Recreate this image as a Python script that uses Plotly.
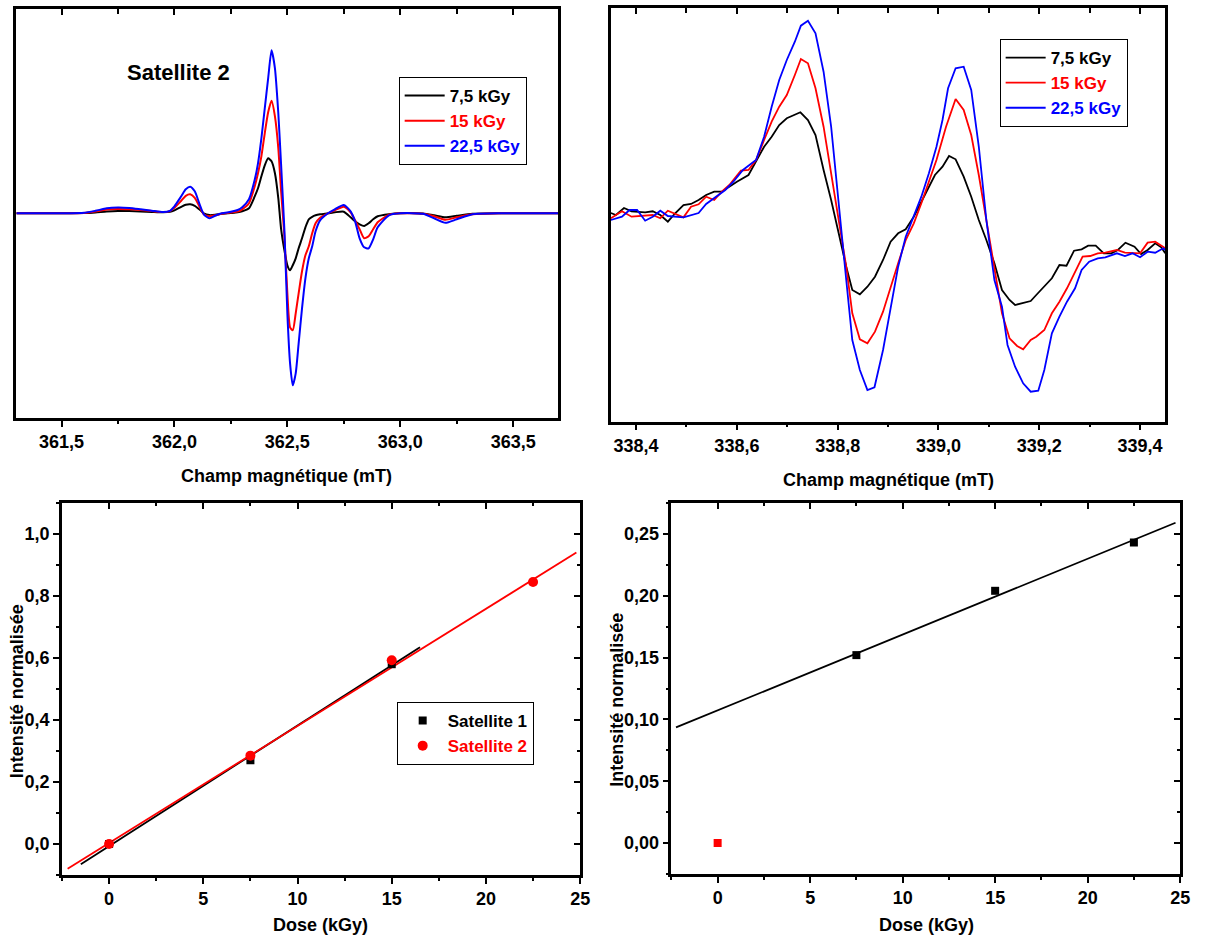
import plotly.graph_objects as go

# ---------------- data ----------------
# Top-left: Satellite 2 spectra (arbitrary units)
tl_field = [361.30, 361.50, 361.60, 361.65, 361.70, 361.75, 361.80, 361.85, 361.90, 361.95,
            361.98, 362.00, 362.03, 362.05, 362.07, 362.09, 362.11, 362.13, 362.155, 362.18,
            362.21, 362.25, 362.28, 362.30, 362.33, 362.355, 362.37, 362.385, 362.40, 362.415,
            362.43, 362.445, 362.46, 362.472, 362.487, 362.50, 362.512, 362.524, 362.537, 362.55,
            362.565, 362.58, 362.595, 362.61, 362.625, 362.645, 362.68, 362.71, 362.75, 362.78,
            362.80, 362.82, 362.84, 362.86, 362.88, 362.90, 362.95, 363.00, 363.10, 363.15,
            363.20, 363.25, 363.32, 363.45, 363.70]
tl_7_5 = [0, 0, 0.2, 0.8, 1.8, 2.3, 2.2, 1.9, 1.4, 1.0,
          1.5, 3, 6.5, 8.5, 9, 7.5, 4, 0, -1.8, -1.5,
          -0.5, 0.3, 1, 2, 5, 16.6, 25, 37, 48, 55,
          52, 40, 15, -15, -37, -52, -57, -52, -45, -35,
          -25, -14, -6, -3.5, -2, -1, 0, 1, 1.6, -4,
          -8, -11, -12.7, -10, -6, -3, -1, 0, -0.3, -2,
          -4, -2.5, -0.5, 0, 0]
tl_15 = [0, 0, 0.4, 1.8, 3.8, 4.4, 4.0, 3.2, 2.2, 1.2,
         2.2, 5.5, 12.5, 17.5, 19, 15.5, 7, -1, -3, -2,
         -0.5, 0.8, 1.7, 4, 10, 26.6, 40, 57, 80, 101,
         112.6, 97, 65, 23, -23, -80, -114, -117, -100, -80,
         -58, -42, -33, -20, -10, -4.5, 0, 3, 6.6, 1,
         -7, -16, -25, -23, -16, -9, -1.5, 0, -0.5, -3,
         -6.5, -4, -1, 0, 0]
tl_22_5 = [0, 0, 0.5, 2.5, 5, 5.8, 5.3, 4.0, 2.6, 1.2,
           2.5, 7, 17, 24, 26.6, 22, 10, -1, -5, -2.5,
           0, 1.5, 3.3, 6, 14, 33, 50, 75, 105, 135,
           163, 145, 100, 50, -17, -100, -150, -172, -160, -130,
           -95, -65, -45, -33, -18, -7, 0, 4, 8.3, 2,
           -8, -25, -34, -35, -26, -14, -2, 0, -0.5, -5,
           -9.5, -6, -1, 0, 0]

# Top-right: spectra (arbitrary units)
tr_field_7_5 = [338.350, 338.360, 338.376, 338.391, 338.418, 338.433, 338.448, 338.463, 338.478, 338.494,
                338.509, 338.524, 338.539, 338.555, 338.570, 338.585, 338.600, 338.623, 338.638, 338.654,
                338.669, 338.684, 338.699, 338.715, 338.726, 338.741, 338.756, 338.772, 338.787, 338.802,
                338.817, 338.829, 338.844, 338.859, 338.874, 338.890, 338.905, 338.920, 338.935, 338.951,
                338.966, 338.981, 338.993, 339.008, 339.021, 339.034, 339.050, 339.065, 339.080, 339.095,
                339.111, 339.126, 339.141, 339.152, 339.168, 339.183, 339.194, 339.210, 339.225, 339.240,
                339.254, 339.269, 339.284, 339.297, 339.312, 339.328, 339.343, 339.356, 339.371, 339.389,
                339.402, 339.415, 339.430, 339.442, 339.450]
tr_7_5 = [0, -2, 5, 1.7, 0.7, 1.7, -2, -8.7, 0, 8,
          9, 13, 18, 21.3, 21.3, 26.3, 31.3, 38, 51.3, 66.3,
          76.3, 88, 94.7, 98.7, 100.7, 93, 78, 43, 13, -20.3,
          -53.7, -77, -81.3, -73.7, -63.7, -47, -28.7, -20.3, -16.3, -3.7,
          11.3, 26.3, 38, 46.3, 57, 53.7, 36.3, 16.3, -7, -27,
          -50.3, -77, -87, -92, -90.3, -88, -82, -73.7, -65.3, -52,
          -52.7, -37.7, -36.3, -32.7, -32.7, -40.3, -40.3, -37, -29.7, -33.7,
          -41, -37, -30.3, -34.3, -40.3]
tr_field_15 = [338.350, 338.372, 338.391, 338.418, 338.433, 338.448, 338.463, 338.494, 338.509, 338.524,
               338.539, 338.555, 338.570, 338.585, 338.608, 338.623, 338.638, 338.654, 338.669, 338.684,
               338.699, 338.715, 338.727, 338.741, 338.756, 338.772, 338.787, 338.802, 338.817, 338.829,
               338.844, 338.859, 338.874, 338.890, 338.905, 338.920, 338.935, 338.951, 338.966, 338.981,
               338.996, 339.015, 339.034, 339.050, 339.065, 339.080, 339.095, 339.111, 339.126, 339.141,
               339.156, 339.168, 339.183, 339.194, 339.210, 339.225, 339.240, 339.255, 339.271, 339.286,
               339.301, 339.316, 339.331, 339.354, 339.370, 339.385, 339.400, 339.415, 339.430, 339.450]
tr_15 = [-5.3, 1.7, -3.7, -3, -2, -5.3, 2.3, -4.3, 6.3, 8.7,
         16.3, 13, 21.3, 28, 42.3, 43, 53, 73, 91.3, 106.3,
         118, 138, 154, 149.7, 124.7, 86.3, 39.7, -7, -53.7, -100.3,
         -126.3, -130.3, -118.7, -98.7, -73.7, -50.3, -27, -10.3, 9.7, 31.3,
         53, 86.3, 114, 103, 78, 38, -7, -53.7, -100.3, -125.3,
         -133, -136.3, -127, -123.7, -117, -100.3, -88.7, -75.3, -58.7, -43.7,
         -43, -40.3, -39.7, -37, -39.7, -40.3, -40.3, -29.7, -28.7, -35.3]
tr_field_22_5 = [338.350, 338.372, 338.387, 338.402, 338.418, 338.433, 338.448, 338.463, 338.494, 338.524,
                 338.539, 338.555, 338.577, 338.593, 338.612, 338.638, 338.654, 338.669, 338.684, 338.699,
                 338.715, 338.727, 338.741, 338.756, 338.772, 338.787, 338.802, 338.817, 338.829, 338.844,
                 338.859, 338.873, 338.890, 338.905, 338.920, 338.935, 338.951, 338.966, 338.981, 338.996,
                 339.008, 339.019, 339.034, 339.050, 339.065, 339.080, 339.095, 339.111, 339.126, 339.137,
                 339.152, 339.168, 339.183, 339.198, 339.210, 339.225, 339.240, 339.255, 339.271, 339.284,
                 339.299, 339.316, 339.331, 339.354, 339.370, 339.385, 339.400, 339.415, 339.430, 339.446,
                 339.450]
tr_22_5 = [-7, -3.7, 3, 3, -7.7, -3.7, 2.3, -3, -4.3, 0,
           9, 14.7, 23, 31.3, 43, 53, 76.3, 106.3, 133, 153,
           171.3, 187.3, 192.3, 179.7, 141.3, 86.3, 6.3, -67, -127, -157,
           -177, -174.3, -137, -97, -53.7, -23.7, -3.7, 16.3, 39.7, 66.3,
           93, 124.7, 144.7, 146.3, 123, 66.3, -7, -67, -93.7, -132,
           -153.7, -170.3, -178.7, -177.7, -157, -120.3, -103.7, -88.7, -75.3, -57,
           -48.7, -45.3, -44.3, -40.3, -43, -40.3, -44.3, -38.7, -39.7, -35.3,
           -37]

# Bottom-left: normalised intensity vs dose
sat1_dose = [0, 7.5, 15]
sat1_int = [0.0, 0.270, 0.580]
sat2_dose = [0, 7.5, 15, 22.5]
sat2_int = [0.0, 0.285, 0.593, 0.845]
fit1_dose = [-1.5, 16.5]
fit1_int = [-0.065, 0.635]
fit2_dose = [-2.2, 24.8]
fit2_int = [-0.080, 0.940]

# Bottom-right
br_dose = [7.5, 15, 22.5]
br_int = [0.152, 0.204, 0.243]
br_zero_dose = [0]
br_zero_int = [0.0]
br_fit_dose = [-2.25, 24.75]
br_fit_int = [0.0935, 0.259]

dose_labels = ["7,5 kGy", "15 kGy", "22,5 kGy"]
colors = ["#000000", "#ff0000", "#0000ff"]

FONT = "Liberation Sans, Arial, sans-serif"

fig = go.Figure()

# top-left spectra
for lab, col, vals in zip(dose_labels, colors, [tl_7_5, tl_15, tl_22_5]):
    fig.add_trace(go.Scatter(x=tl_field, y=vals, mode="lines",
                             line=dict(color=col, width=2, shape="spline", smoothing=0.6),
                             name=f"<span style='color:{col}'>{lab}</span>",
                             xaxis="x", yaxis="y", legend="legend"))

# top-right spectra
for lab, col, xs, vals in zip(dose_labels, colors,
                              [tr_field_7_5, tr_field_15, tr_field_22_5],
                              [tr_7_5, tr_15, tr_22_5]):
    fig.add_trace(go.Scatter(x=xs, y=vals, mode="lines",
                             line=dict(color=col, width=1.8),
                             name=f"<span style='color:{col}'>{lab}</span>",
                             xaxis="x2", yaxis="y2", legend="legend2"))

# bottom-left
fig.add_trace(go.Scatter(x=fit1_dose, y=fit1_int, mode="lines", line=dict(color="black", width=1.8),
                         showlegend=False, xaxis="x3", yaxis="y3"))
fig.add_trace(go.Scatter(x=fit2_dose, y=fit2_int, mode="lines", line=dict(color="red", width=1.8),
                         showlegend=False, xaxis="x3", yaxis="y3"))
fig.add_trace(go.Scatter(x=sat1_dose, y=sat1_int, mode="markers",
                         marker=dict(symbol="square", size=8, color="black"),
                         name="Satellite 1", xaxis="x3", yaxis="y3", legend="legend3"))
fig.add_trace(go.Scatter(x=sat2_dose, y=sat2_int, mode="markers",
                         marker=dict(symbol="circle", size=10, color="red"),
                         name="<span style='color:#ff0000'>Satellite 2</span>",
                         xaxis="x3", yaxis="y3", legend="legend3"))

# bottom-right
fig.add_trace(go.Scatter(x=br_fit_dose, y=br_fit_int, mode="lines", line=dict(color="black", width=1.8),
                         showlegend=False, xaxis="x4", yaxis="y4"))
fig.add_trace(go.Scatter(x=br_dose, y=br_int, mode="markers",
                         marker=dict(symbol="square", size=8, color="black"),
                         showlegend=False, xaxis="x4", yaxis="y4"))
fig.add_trace(go.Scatter(x=br_zero_dose, y=br_zero_int, mode="markers",
                         marker=dict(symbol="square", size=8, color="red"),
                         showlegend=False, xaxis="x4", yaxis="y4"))

# empty traces for mirror-tick overlay axes
for xa, ya in [("x5", "y"), ("x6", "y2"), ("x7", "y3"), ("x8", "y4"), ("x3", "y5"), ("x4", "y6")]:
    fig.add_trace(go.Scatter(x=[], y=[], showlegend=False, xaxis=xa, yaxis=ya, hoverinfo="skip"))

W, H = 1207, 938
tickfont = dict(family=FONT, size=18, color="black", weight="bold")


def dom_x(a, b):
    return [a / W, b / W]


def dom_y(top, bottom):
    return [1 - bottom / H, 1 - top / H]


def base_axis(**kw):
    d = dict(showgrid=False, zeroline=False, showline=True, linecolor="black", linewidth=2.5,
             mirror=True, tickfont=tickfont, tickcolor="black", tickwidth=2, ticklen=6,
             autorange=False)
    d.update(kw)
    return d


def top_axis(over, anchor, rng, tick0, dtick, mdtick, mlen=5):
    return dict(overlaying=over, anchor=anchor, side="top", range=rng, autorange=False,
                tickmode="linear", tick0=tick0, dtick=dtick, ticks="inside", ticklen=6,
                tickwidth=2, tickcolor="black", showticklabels=False, showgrid=False,
                zeroline=False, showline=False,
                minor=dict(tick0=tick0, dtick=mdtick, ticks="inside", ticklen=mlen,
                           tickwidth=2, tickcolor="black", showgrid=False))


def right_axis(over, anchor, rng, tick0, dtick, mdtick):
    return dict(overlaying=over, anchor=anchor, side="right", range=rng, autorange=False,
                tickmode="linear", tick0=tick0, dtick=dtick, ticks="inside", ticklen=6,
                tickwidth=2, tickcolor="black", showticklabels=False, showgrid=False,
                zeroline=False, showline=False,
                minor=dict(tick0=tick0, dtick=mdtick, ticks="inside", ticklen=3,
                           tickwidth=2, tickcolor="black", showgrid=False))


tl_xr = [361.3, 363.7]
tr_xr = [338.35, 339.45]
bl_xr = [-2.5, 25]
bl_yr = [-0.1, 1.1]
br_yr = [-0.025, 0.275]

legfont = dict(family=FONT, size=17, color="black", weight="bold")

fig.update_layout(
    width=W, height=H,
    margin=dict(l=0, r=0, t=0, b=0),
    paper_bgcolor="white", plot_bgcolor="white",
    separators=", ",
    font=dict(family=FONT, size=18, color="black", weight="bold"),
    xaxis=base_axis(domain=dom_x(16.5, 563), anchor="y", range=tl_xr, tickmode="linear",
                    tick0=361.5, dtick=0.5, tickformat=".1f", ticks="outside",
                    minor=dict(tick0=361.25, dtick=0.25, ticks="outside", ticklen=3, tickwidth=2,
                               tickcolor="black", showgrid=False)),
    yaxis=base_axis(domain=dom_y(9, 418), anchor="x", range=[-204.7, 204.3],
                    showticklabels=False, ticks=""),
    xaxis2=base_axis(domain=dom_x(616, 1175), anchor="y2", range=tr_xr, tickmode="linear",
                     tick0=338.4, dtick=0.2, tickformat=".1f", ticks="outside",
                     minor=dict(tick0=338.3, dtick=0.1, ticks="outside", ticklen=3, tickwidth=2,
                                tickcolor="black", showgrid=False)),
    yaxis2=base_axis(domain=dom_y(8.3, 421.7), anchor="x2", range=[-208.7, 204.7],
                     showticklabels=False, ticks=""),
    xaxis3=base_axis(domain=dom_x(62.5, 585), anchor="y3", range=bl_xr, tickmode="linear",
                     tick0=0, dtick=5, ticks="outside",
                     minor=dict(tick0=0, dtick=2.5, ticks="outside", ticklen=3, tickwidth=2,
                                tickcolor="black", showgrid=False)),
    yaxis3=base_axis(domain=dom_y(503, 875), anchor="x3", range=bl_yr, tickmode="linear",
                     tick0=0, dtick=0.2, tickformat=".1f", ticks="outside",
                     minor=dict(tick0=0, dtick=0.1, ticks="outside", ticklen=3, tickwidth=2,
                                tickcolor="black", showgrid=False)),
    xaxis4=base_axis(domain=dom_x(677, 1190), anchor="y4", range=bl_xr, tickmode="linear",
                     tick0=0, dtick=5, ticks="outside",
                     minor=dict(tick0=0, dtick=2.5, ticks="outside", ticklen=3, tickwidth=2,
                                tickcolor="black", showgrid=False)),
    yaxis4=base_axis(domain=dom_y(503, 874), anchor="x4", range=br_yr, tickmode="linear",
                     tick0=0, dtick=0.05, tickformat=".2f", ticks="outside",
                     minor=dict(tick0=0, dtick=0.025, ticks="outside", ticklen=3, tickwidth=2,
                                tickcolor="black", showgrid=False)),
    xaxis5=top_axis("x", "y", tl_xr, 361.5, 0.5, 0.25),
    xaxis6=top_axis("x2", "y2", tr_xr, 338.4, 0.2, 0.1),
    xaxis7=top_axis("x3", "y3", bl_xr, 0, 5, 2.5, 3),
    xaxis8=top_axis("x4", "y4", bl_xr, 0, 5, 2.5, 3),
    yaxis5=right_axis("y3", "x3", bl_yr, 0, 0.2, 0.1),
    yaxis6=right_axis("y4", "x4", br_yr, 0, 0.05, 0.025),
    legend=dict(x=402 / W, y=1 - 77 / H, xanchor="left", yanchor="top",
                bgcolor="white", bordercolor="black", borderwidth=1,
                font=legfont, tracegroupgap=0, itemwidth=40),
    legend2=dict(x=1008 / W, y=1 - 39 / H, xanchor="left", yanchor="top",
                 bgcolor="white", bordercolor="black", borderwidth=1,
                 font=legfont, tracegroupgap=0, itemwidth=40),
    legend3=dict(x=400 / W, y=1 - 702 / H, xanchor="left", yanchor="top",
                 bgcolor="white", bordercolor="black", borderwidth=1,
                 font=legfont, tracegroupgap=0, itemwidth=40),
    showlegend=True,
)

ann_font = dict(family=FONT, size=18, color="black", weight="bold")
annotations = [
    dict(text="Satellite 2", x=180 / W, y=1 - 72 / H, font=dict(family=FONT, size=22, color="black", weight="bold")),
    dict(text="Champ magnétique (mT)", x=289 / W, y=1 - 476 / H, font=ann_font),
    dict(text="Champ magnétique (mT)", x=895.5 / W, y=1 - 480.5 / H, font=ann_font),
    dict(text="Dose (kGy)", x=323 / W, y=1 - 925 / H, font=ann_font),
    dict(text="Dose (kGy)", x=934 / W, y=1 - 925 / H, font=ann_font),
    dict(text="Intensité normalisée", x=17 / W, y=1 - 691.5 / H, font=ann_font, textangle=-90),
    dict(text="Intensité normalisée", x=622 / W, y=1 - 700 / H, font=ann_font, textangle=-90),
]
for a in annotations:
    a.update(xref="paper", yref="paper", xanchor="center", yanchor="middle", showarrow=False)
fig.update_layout(annotations=annotations)

fig.write_html("out.html",
               config={"displayModeBar": False},
               post_script="document.body.style.margin='0';document.body.style.padding='0';"
                           "document.body.style.overflow='hidden';")
